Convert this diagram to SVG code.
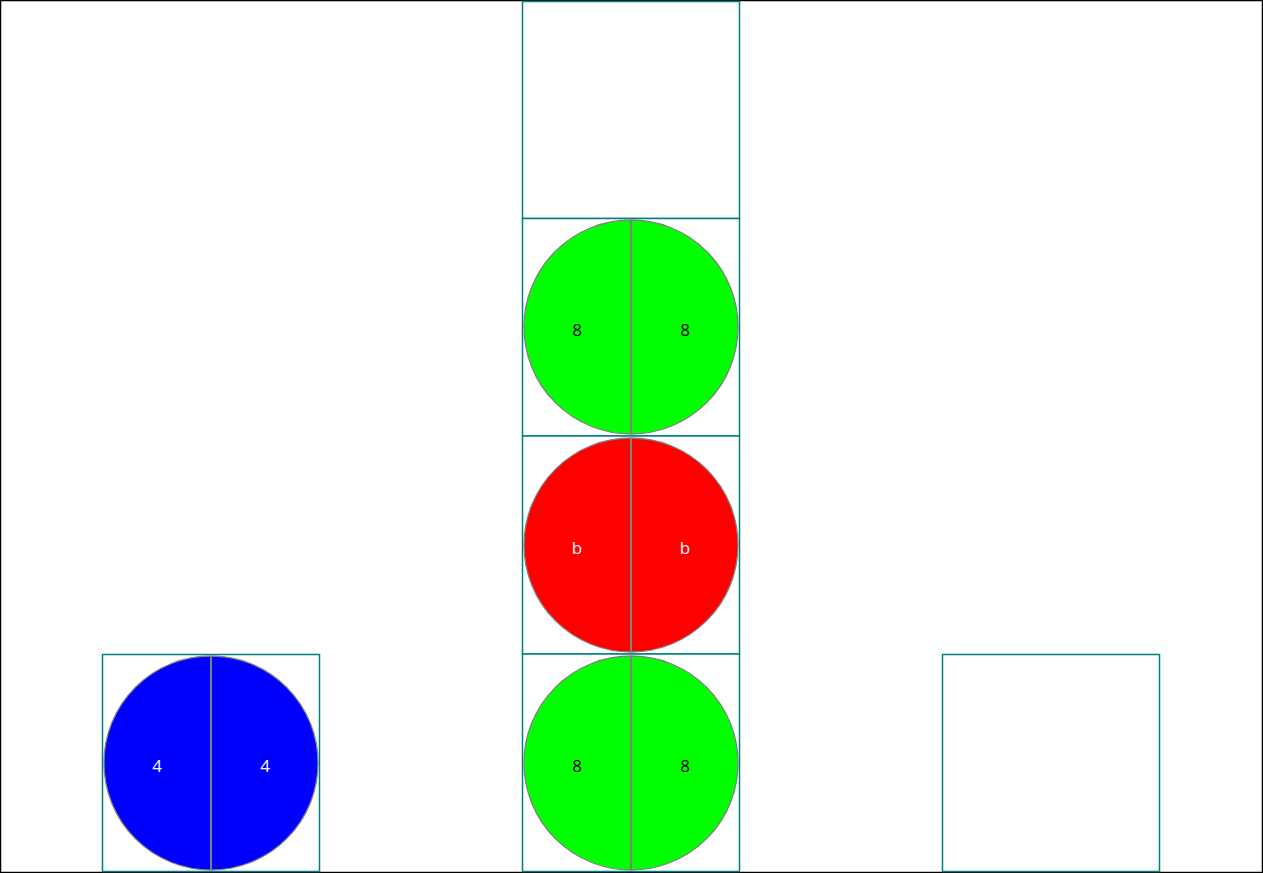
<svg xmlns="http://www.w3.org/2000/svg" width="1263" height="873" viewBox="0 0 1263 873">
<style>
.box{fill:#fff;stroke:#008080;stroke-width:1.5}
.c{stroke:#808080;stroke-width:1.3}
.d{stroke:#808080;stroke-width:2}
.t{font-family:"Open Sans","Liberation Sans",sans-serif;font-size:17px;text-anchor:middle}
.w{fill:#fff}.k{fill:#000}
</style>
<rect x="0.5" y="0.5" width="1262" height="872" fill="#fff" stroke="#000" stroke-width="1.5"/>
<g id="n-top"><rect class="box" x="522.5" y="1.5" width="217" height="217"/></g>
<g id="n-g1"><rect class="box" x="522.5" y="218.5" width="217" height="217.5"/>
<circle class="c" cx="631" cy="327" r="107" fill="#00ff00"/><line class="d" x1="631" y1="220" x2="631" y2="434"/>
<text class="t k" x="577" y="335.5">8</text><text class="t k" x="685" y="335.5">8</text></g>
<g id="n-r"><rect class="box" x="522.5" y="436" width="217" height="218"/>
<circle class="c" cx="631" cy="545" r="107" fill="#ff0000"/><line class="d" x1="631" y1="438" x2="631" y2="652"/>
<text class="t w" x="577" y="553.5">b</text><text class="t w" x="685" y="553.5">b</text></g>
<g id="n-g2"><rect class="box" x="522.5" y="654" width="217" height="217.5"/>
<circle class="c" cx="631" cy="763" r="107" fill="#00ff00"/><line class="d" x1="631" y1="656" x2="631" y2="870"/>
<text class="t k" x="577" y="771.5">8</text><text class="t k" x="685" y="771.5">8</text></g>
<g id="n-b"><rect class="box" x="102.5" y="654.5" width="217" height="217"/>
<circle class="c" cx="211" cy="763" r="107" fill="#0000ff"/><line class="d" x1="211" y1="656" x2="211" y2="870"/>
<text class="t w" x="157" y="771.5">4</text><text class="t w" x="265" y="771.5">4</text></g>
<g id="n-e"><rect class="box" x="942.5" y="654.5" width="217" height="217"/></g>
<g id="connectors"></g>
</svg>
